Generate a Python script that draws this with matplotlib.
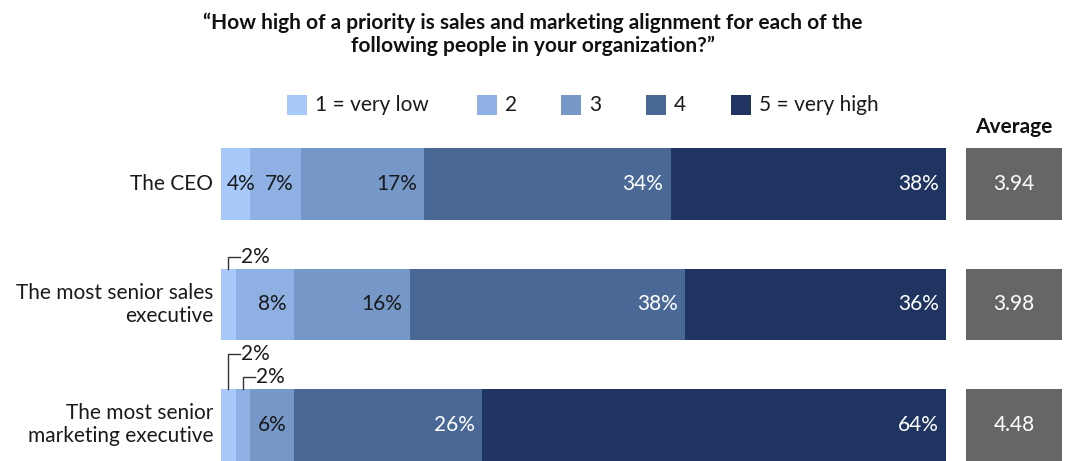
import matplotlib
matplotlib.use("Agg")
import matplotlib.pyplot as plt
from matplotlib.patches import Rectangle

plt.rcParams['font.family'] = ['Lato', 'DejaVu Sans']

# ---- data ----
title = "\u201cHow high of a priority is sales and marketing alignment for each of the\nfollowing people in your organization?\u201d"
roles = ["The CEO", "The most senior sales\nexecutive", "The most senior\nmarketing executive"]
levels = ["1 = very low", "2", "3", "4", "5 = very high"]
share_1 = [4, 2, 2]
share_2 = [7, 8, 2]
share_3 = [17, 16, 6]
share_4 = [34, 38, 26]
share_5 = [38, 36, 64]
averages = [3.94, 3.98, 4.48]

colors = ["#A8CAFA", "#8FB0E3", "#7698C8", "#496896", "#203461"]
text_colors = ["#1a1a1a", "#1a1a1a", "#1a1a1a", "white", "white"]
avg_color = "#666666"

W, H = 1070, 461
fig = plt.figure(figsize=(W / 100, H / 100), dpi=100)


def fx(x):
    return x / W


def fy(y):
    return 1 - y / H


# bar area layout in pixels
bar_left, bar_right = 221, 946
area_top, area_bottom = 148, 461
ylim_top, ylim_bot = -0.3, 2.3
bar_h = 0.598
px_per_y = (area_bottom - area_top) / (ylim_bot - ylim_top)

ax = fig.add_axes([fx(bar_left), fy(area_bottom), fx(bar_right - bar_left),
                   (area_bottom - area_top) / H])
ax.set_xlim(0, 100)
ax.set_ylim(ylim_bot, ylim_top)
ax.axis('off')

series = [share_1, share_2, share_3, share_4, share_5]
rows = list(range(len(roles)))
fs = 15

for r in rows:
    left = 0
    small = []
    for k, s in enumerate(series):
        v = s[r]
        ax.barh(r, v, left=left, height=bar_h, color=colors[k], linewidth=0)
        if v <= 2:
            small.append((k, left + v / 2, v))
        elif v < 5:
            ax.annotate(f"{v}%", (left, r), xytext=(6 * 0.72, 0),
                        textcoords='offset points', ha='left', va='center',
                        fontsize=fs, color=text_colors[k])
        else:
            ax.annotate(f"{v}%", (left + v, r), xytext=(-7 * 0.72, 0),
                        textcoords='offset points', ha='right', va='center',
                        fontsize=fs, color=text_colors[k])
        left += v
    # callouts for narrow segments, stacked upward from the rightmost one
    bar_top = r - bar_h / 2
    for lvl, (k, xc, v) in enumerate(reversed(small)):
        rise = (12 + 23 * lvl) / px_per_y
        ytop = bar_top - rise
        xend = xc + 12 / 7.25
        ax.plot([xc, xc, xend], [bar_top, ytop, ytop], color="#333333",
                lw=1.0, clip_on=False, solid_joinstyle='miter')
        ax.annotate(f"{v}%", (xend, ytop), xytext=(1 * 0.72, 0),
                    textcoords='offset points', ha='left', va='center',
                    fontsize=fs, color="#1a1a1a", annotation_clip=False)
    # role label
    ax.annotate(roles[r], (0, r), xytext=(-8 * 0.72, 0),
                textcoords='offset points', ha='right', va='center',
                fontsize=fs, color="#1a1a1a", linespacing=1.2,
                multialignment='right', annotation_clip=False)

# averages column
avg_left, avg_right = 966, 1062
ax2 = fig.add_axes([fx(avg_left), fy(area_bottom), fx(avg_right - avg_left),
                    (area_bottom - area_top) / H])
ax2.set_xlim(0, 1)
ax2.set_ylim(ylim_bot, ylim_top)
ax2.axis('off')
for r in rows:
    ax2.barh(r, 1, left=0, height=bar_h, color=avg_color, linewidth=0)
    ax2.text(0.5, r, f"{averages[r]:.2f}", ha='center', va='center',
             fontsize=fs, color='white')
fig.text(fx((avg_left + avg_right) / 2), fy(127), "Average", ha='center',
         va='center', fontsize=fs, fontweight='bold', color="#111111")

# legend
sq_x = [287, 477, 561, 646, 731]
sq = 20
for k, lab in enumerate(levels):
    fig.add_artist(Rectangle((fx(sq_x[k]), fy(95 + sq)), sq / W, sq / H,
                             transform=fig.transFigure, color=colors[k],
                             linewidth=0))
    fig.text(fx(sq_x[k] + sq + 8), fy(105), lab, ha='left', va='center',
             fontsize=fs, color="#1a1a1a")

# title
fig.text(fx(533), fy(34), title, ha='center', va='center', fontsize=15,
         fontweight='bold', color="#111111", linespacing=1.15)

fig.savefig("out.png", dpi=100)
